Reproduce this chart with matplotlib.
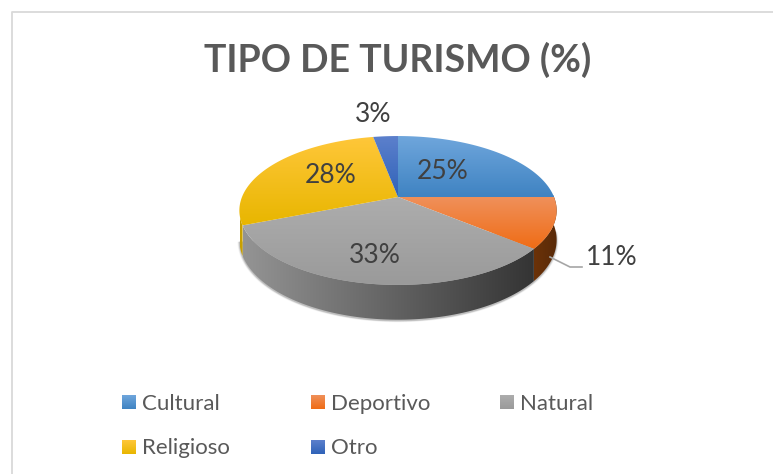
import numpy as np
import matplotlib
matplotlib.use('Agg')
import matplotlib.pyplot as plt
from matplotlib.colors import LinearSegmentedColormap
from matplotlib.patches import Polygon, Rectangle

categories = ['Cultural', 'Deportivo', 'Natural', 'Religioso', 'Otro']
values = [25, 11, 33, 28, 3]
title = 'TIPO DE TURISMO (%)'

# top colour, bottom colour of each slice
top_colors = ['#6fa6dc', '#f0905a', '#adadad', '#ffc73a', '#5c80cc']
bottom_colors = ['#3f83c2', '#ef6c15', '#9a9a9a', '#e8b600', '#2f62b8']
side_colors = [('#1f4e79', '#1f4e79'), ('#6b3208', '#592a08'), ('#949494', '#343434'),
               ('#c9a000', '#c9a000'), ('#203864', '#203864')]

W, H = 773, 474
CX, CY = 398, 197
RX, RY = 156, 72
K = 0.181
DEPTH = 28.5
TEXT = '#404040'
LEGEND_TEXT = '#595959'

plt.rcParams['font.family'] = ['Lato', 'DejaVu Sans']


def project(theta, r=1.0, drop=0.0):
    # theta clockwise from 12 o'clock, on a disk seen in perspective
    u = r * np.sin(theta)
    v = r * np.cos(theta)
    w = 1 + K * v
    return CX + RX * u / w, CY - RY * v / w + drop / w


def gradient(ax, clip, c0, c1, horizontal=False, extent=None):
    cmap = LinearSegmentedColormap.from_list('g', [c0, c1])
    g = np.linspace(0, 1, 256)
    g = g.reshape(1, -1) if horizontal else g.reshape(-1, 1)
    im = ax.imshow(g, cmap=cmap, extent=extent, aspect='auto', zorder=clip.get_zorder(),
                   interpolation='bilinear')
    im.set_clip_path(clip)


fig = plt.figure(figsize=(W / 100, H / 100), dpi=100)
ax = fig.add_axes([0, 0, 1, 1])

# chart frame
ax.plot([W + 2, 11.5, 11.5], [11.5, 11.5, H + 2], color='#d9d9d9', lw=1.3, zorder=1)

edges = 2 * np.pi * np.cumsum([0] + values) / sum(values)

# soft shadow under the front of the pie
t = np.linspace(np.pi * 0.52, np.pi * 1.44, 200)
for grow, a in zip([1.012, 1.008, 1.005, 1.002], [0.04, 0.06, 0.08, 0.10]):
    x, y = project(t, drop=DEPTH + 1)
    x = CX + (x - CX) * grow
    y = CY + 12 + (y - CY - 12) * grow
    ax.fill(x, y, color='black', alpha=a, lw=0, zorder=2)

# outer wall, only the front faces the viewer
for i in range(len(values)):
    a0, a1 = max(edges[i], np.pi / 2 * 0.98), min(edges[i + 1], np.pi * 1.42)
    if a1 <= a0:
        continue
    th = np.linspace(a0, a1, 80)
    x0, y0 = project(th)
    x1, y1 = project(th[::-1], drop=DEPTH)
    pts = np.column_stack([np.r_[x0, x1], np.r_[y0, y1]])
    patch = Polygon(pts, closed=True, fc='none', ec='none', zorder=3)
    ax.add_patch(patch)
    gradient(ax, patch, side_colors[i][0], side_colors[i][1], horizontal=True,
             extent=(pts[:, 0].min(), pts[:, 0].max(), pts[:, 1].max(), pts[:, 1].min()))

# top surface
for i in range(len(values)):
    th = np.linspace(edges[i], edges[i + 1], 120)
    x, y = project(th)
    pts = np.column_stack([np.r_[CX, x], np.r_[CY, y]])
    patch = Polygon(pts, closed=True, fc='none', ec='none', zorder=4)
    ax.add_patch(patch)
    gradient(ax, patch, top_colors[i], bottom_colors[i],
             extent=(pts[:, 0].min(), pts[:, 0].max(), pts[:, 1].max(), pts[:, 1].min()))

# data labels
label_xy = [(443, 171.5), (611.5, 257.5), (375, 255.5), (331, 175.5), (373, 114.5)]
for v, (lx, ly) in zip(values, label_xy):
    ax.text(lx, ly, f'{v}%', fontsize=19, color=TEXT, ha='center', va='center', zorder=6)

# leader line of the Deportivo label
ax.plot([550, 570, 582], [257, 267, 267], color='#a6a6a6', lw=1.2, zorder=5)

ax.text(398, 60, title, fontsize=27, fontweight='bold', color='#595959',
        ha='center', va='center', zorder=6)

# legend
legend_xy = [(122, 402), (311, 402), (500, 402), (122, 447), (311, 447)]
for i, (name, (lx, ly)) in enumerate(zip(categories, legend_xy)):
    patch = Rectangle((lx, ly - 7), 14, 14, fc='none', ec='none', zorder=5)
    ax.add_patch(patch)
    gradient(ax, patch, top_colors[i], bottom_colors[i], extent=(lx, lx + 14, ly + 7, ly - 7))
    ax.text(lx + 20, ly + 1.5, name, fontsize=16, color=LEGEND_TEXT, ha='left', va='center', zorder=6)

ax.set_xlim(0, W)
ax.set_ylim(H, 0)
ax.axis('off')

fig.savefig('out.png', dpi=100)
